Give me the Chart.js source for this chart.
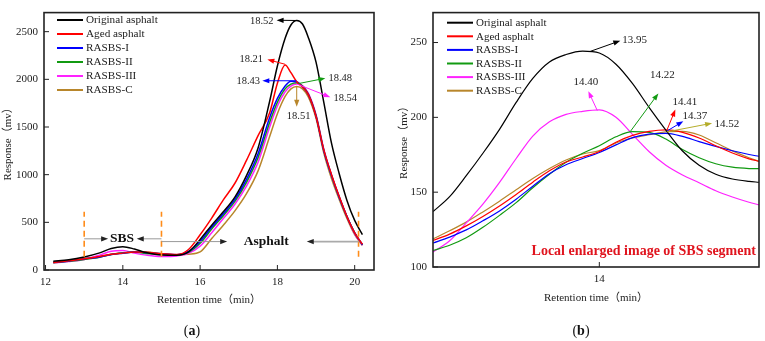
<!DOCTYPE html>
<html>
<head>
<meta charset="utf-8">
<script src="https://cdn.jsdelivr.net/npm/chart.js@4.4.0/dist/chart.umd.min.js"></script>
<style>
  body { margin: 0; background: #fff; width: 765px; height: 341px; position: relative; overflow: hidden; font-family: 'Liberation Serif', serif; color: #111; }
  #chartA { position: absolute; left: 0; top: 0; }
  #chartB { position: absolute; left: 380px; top: 0; }
  .cap { position: absolute; top: 323px; width: 100px; text-align: center; font-size: 14px; line-height: 16px; }
</style>
</head>
<body>
<canvas id="chartA" width="380" height="341"></canvas>
<canvas id="chartB" width="385" height="341"></canvas>
<div class="cap" style="left:142px">(<b>a</b>)</div>
<div class="cap" style="left:531px">(<b>b</b>)</div>
<script>
// series
const seriesNames = ["Original asphalt", "Aged asphalt", "RASBS-I", "RASBS-II", "RASBS-III", "RASBS-C"];
const seriesColors = ["#000000", "#ff0000", "#0000ff", "#119a11", "#ff22ff", "#b8862b"];

// (a) full chromatogram
const timeA = [12.2, 12.6, 13.0, 13.4, 13.7, 14.0, 14.3, 14.6, 15.0, 15.4, 15.7, 16.0, 16.3, 16.6, 16.9, 17.2, 17.5, 17.8, 18.0, 18.2, 18.35, 18.5, 18.65, 18.8, 19.0, 19.2, 19.4, 19.6, 19.8, 20.0, 20.2];
const originalA = [92, 108, 137, 180, 226, 244, 220, 183, 157, 155, 190, 320, 470, 610, 765, 990, 1280, 1770, 2140, 2430, 2570, 2617, 2580, 2440, 2180, 1760, 1330, 1010, 730, 520, 372];
const agedA = [78, 96, 118, 141, 164, 177, 190, 186, 170, 162, 215, 370, 545, 735, 910, 1150, 1410, 1650, 1960, 2150, 2070, 1975, 1920, 1840, 1610, 1260, 1000, 770, 560, 390, 270];
const rasbs1A = [80, 95, 116, 137, 162, 176, 189, 184, 170, 160, 195, 300, 450, 590, 740, 950, 1220, 1600, 1800, 1930, 1980, 1975, 1920, 1840, 1610, 1250, 990, 760, 560, 390, 265];
const rasbs2A = [76, 92, 111, 134, 162, 181, 190, 173, 165, 158, 185, 280, 430, 570, 720, 920, 1180, 1550, 1760, 1900, 1950, 1965, 1930, 1845, 1620, 1260, 995, 765, 560, 390, 265];
const rasbs3A = [74, 88, 110, 156, 197, 205, 177, 156, 141, 148, 175, 250, 390, 540, 690, 880, 1130, 1500, 1720, 1870, 1930, 1950, 1935, 1855, 1630, 1270, 1000, 770, 560, 380, 260];
const rasbsCA = [80, 98, 119, 144, 166, 178, 188, 188, 170, 160, 165, 190, 330, 470, 620, 800, 1040, 1400, 1640, 1820, 1900, 1925, 1900, 1815, 1590, 1230, 960, 740, 540, 370, 258];
const xTicksA = [12, 14, 16, 18, 20];
const yTicksA = [0, 500, 1000, 1500, 2000, 2500];

// (b) SBS segment enlarged
const timeB = [13.0, 13.1, 13.2, 13.3, 13.4, 13.5, 13.6, 13.7, 13.8, 13.9, 14.0, 14.1, 14.2, 14.3, 14.4, 14.5, 14.6, 14.7, 14.8, 14.9, 14.96];
const originalB = [137, 147, 161, 176, 192, 210, 226, 237, 242, 244.3, 243, 235.5, 222.5, 206.5, 191.5, 177.5, 168, 162, 158.8, 157.2, 156.6];
const agedB = [117.7, 122, 127.5, 133.8, 140.8, 148.5, 156.7, 164.3, 170.2, 173.5, 177.2, 183.4, 188, 190.6, 191.6, 190, 186.2, 181, 176.2, 172.3, 170.6];
const rasbs1B = [116, 120, 124.8, 130.9, 137.5, 145.3, 154, 162.3, 168.3, 172.5, 176.5, 181.6, 186.5, 188.8, 189.3, 187.3, 183.8, 180.6, 177.7, 175.2, 173.9];
const rasbs2B = [111, 114.5, 119.5, 126.5, 134.5, 143, 153, 162, 170, 176, 181, 187, 190.5, 190, 185.5, 178.5, 173, 169, 166.7, 165.8, 165.7];
const rasbs3B = [110, 117.5, 129.5, 142, 156.5, 172.5, 187.5, 197, 202, 204, 205, 200, 188.5, 177, 168, 161.5, 156.3, 151, 146.8, 143.3, 141.5];
const rasbsCB = [118.8, 124.2, 130, 136.8, 144, 151.6, 159.1, 165.8, 171.5, 175.5, 177.8, 182.9, 186.2, 188.4, 190.3, 190.6, 188.2, 183, 177.6, 173, 170.6];
const xTicksB = [14];
const yTicksB = [100, 150, 200, 250];

const FONT = "'Liberation Serif', 'Noto Sans CJK SC', serif";
Chart.defaults.font.family = FONT;
Chart.defaults.color = "#222";

function makeSets(time, lists, width) {
  return lists.map((vals, i) => ({
    label: seriesNames[i],
    data: vals.map((v, k) => ({ x: time[k], y: v })),
    borderColor: seriesColors[i],
    borderWidth: width,
    pointRadius: 0,
    cubicInterpolationMode: "monotone",
    fill: false,
  }));
}

function arrow(ctx, x1, y1, x2, y2, color, head, width) {
  const a = Math.atan2(y2 - y1, x2 - x1);
  ctx.strokeStyle = color;
  ctx.lineWidth = width || 1;
  ctx.beginPath();
  ctx.moveTo(x1, y1);
  ctx.lineTo(x2 - Math.cos(a) * 4, y2 - Math.sin(a) * 4);
  ctx.stroke();
  ctx.fillStyle = head || color;
  ctx.beginPath();
  ctx.moveTo(x2, y2);
  ctx.lineTo(x2 - 7 * Math.cos(a) + 2.6 * Math.sin(a), y2 - 7 * Math.sin(a) - 2.6 * Math.cos(a));
  ctx.lineTo(x2 - 7 * Math.cos(a) - 2.6 * Math.sin(a), y2 - 7 * Math.sin(a) + 2.6 * Math.cos(a));
  ctx.closePath();
  ctx.fill();
}

// box around plot + ticks pointing inward
const frame = {
  id: "frame",
  afterDraw(chart) {
    const { ctx, chartArea: a, scales } = chart;
    ctx.save();
    ctx.strokeStyle = "#222";
    ctx.lineWidth = 1.6;
    ctx.strokeRect(a.left, a.top, a.right - a.left, a.bottom - a.top);
    ctx.lineWidth = 1;
    scales.x.ticks.forEach(t => {
      const p = scales.x.getPixelForValue(t.value);
      ctx.beginPath(); ctx.moveTo(p, a.bottom); ctx.lineTo(p, a.bottom - 5); ctx.stroke();
    });
    scales.y.ticks.forEach(t => {
      const p = scales.y.getPixelForValue(t.value);
      ctx.beginPath(); ctx.moveTo(a.left, p); ctx.lineTo(a.left + 5, p); ctx.stroke();
    });
    ctx.restore();
  },
};

// legend inside the plot
const boxLegend = {
  id: "boxLegend",
  afterDraw(chart, args, opts) {
    const ctx = chart.ctx;
    ctx.save();
    ctx.font = opts.size + "px " + FONT;
    ctx.textBaseline = "middle";
    ctx.textAlign = "left";
    chart.data.datasets.forEach((ds, i) => {
      const y = opts.y + i * opts.step;
      ctx.strokeStyle = ds.borderColor;
      ctx.lineWidth = 2;
      ctx.beginPath(); ctx.moveTo(opts.x, y); ctx.lineTo(opts.x + 26, y); ctx.stroke();
      ctx.fillStyle = "#222";
      ctx.fillText(ds.label, opts.x + 29, y + 0.5);
    });
    ctx.restore();
  },
};

// peak labels, arrows and marks (in data units)
const notes = {
  id: "notes",
  afterDatasetsDraw(chart, args, opts) {
    const { ctx, scales } = chart;
    const X = v => scales.x.getPixelForValue(v);
    const Y = v => scales.y.getPixelForValue(v);
    ctx.save();
    (opts.dashes || []).forEach(d => {
      ctx.strokeStyle = "#ff8c1a";
      ctx.lineWidth = 1.6;
      ctx.setLineDash([6, 4]);
      ctx.beginPath(); ctx.moveTo(X(d.x), Y(d.y1)); ctx.lineTo(X(d.x), Y(d.y2)); ctx.stroke();
    });
    ctx.setLineDash([]);
    (opts.arrows || []).forEach(n => {
      arrow(ctx, X(n.from[0]), Y(n.from[1]), X(n.to[0]), Y(n.to[1]), n.color, n.head, n.width);
    });
    (opts.texts || []).forEach(t => {
      ctx.font = (t.bold ? "bold " : "") + t.size + "px " + FONT;
      ctx.fillStyle = t.color || "#222";
      ctx.textAlign = t.align || "center";
      ctx.textBaseline = "middle";
      ctx.fillText(t.text, X(t.at[0]), Y(t.at[1]));
    });
    ctx.restore();
  },
};

function ticksFrom(list) {
  return s => { s.ticks = list.map(v => ({ value: v })); };
}
const plain = v => String(v);

new Chart(document.getElementById("chartA"), {
  type: "line",
  data: { datasets: makeSets(timeA, [originalA, agedA, rasbs1A, rasbs2A, rasbs3A, rasbsCA], 1.5) },
  options: {
    responsive: false,
    animation: false,
    layout: { padding: { top: 4, right: 6, left: 0, bottom: 0 } },
    scales: {
      x: {
        type: "linear", min: 11.96, max: 20.5,
        afterBuildTicks: ticksFrom(xTicksA),
        afterFit: s => { s.height = 71; },
        grid: { display: false, drawTicks: false },
        border: { display: false },
        ticks: { padding: 6, font: { size: 11 }, callback: plain },
        title: { display: true, text: "Retention time（min）", font: { size: 11 }, padding: { top: 0, bottom: 34 } },
      },
      y: {
        min: 0, max: 2700,
        afterBuildTicks: ticksFrom(yTicksA),
        afterFit: s => { s.width = 44; },
        grid: { display: false, drawTicks: false },
        border: { display: false },
        ticks: { padding: 6, font: { size: 11 }, callback: plain },
        title: { display: true, text: "Response（mv）", font: { size: 11 }, padding: { top: 2, bottom: 0 } },
      },
    },
    plugins: {
      legend: { display: false },
      tooltip: { enabled: false },
      boxLegend: { x: 57, y: 20, step: 14, size: 11.2 },
      notes: {
        dashes: [{ x: 13, y1: 140, y2: 610 }, { x: 15, y1: 140, y2: 610 }, { x: 20.1, y1: 140, y2: 610 }],
        arrows: [
          { from: [18.5, 2617], to: [17.98, 2620], color: "#000" },
          { from: [18.2, 2158], to: [17.74, 2208], color: "#ff0000" },
          { from: [18.49, 1985], to: [17.61, 1985], color: "#0000ff" },
          { from: [18.54, 1955], to: [19.24, 2011], color: "#119a11" },
          { from: [18.54, 1945], to: [19.37, 1813], color: "#ff22ff" },
          { from: [18.5, 1925], to: [18.5, 1712], color: "#b8862b" },
          { from: [13, 327], to: [13.62, 327], color: "#999", head: "#222" },
          { from: [15, 327], to: [14.36, 327], color: "#999", head: "#222" },
          { from: [15, 298], to: [16.7, 298], color: "#999", head: "#222" },
          { from: [20.1, 298], to: [18.76, 298], color: "#aaa", head: "#222", width: 1.6 },
        ],
        texts: [
          { text: "18.52", at: [17.9, 2610], align: "right", size: 10.5 },
          { text: "18.21", at: [17.63, 2208], align: "right", size: 10.5 },
          { text: "18.43", at: [17.55, 1985], align: "right", size: 10.5 },
          { text: "18.48", at: [19.32, 2011], align: "left", size: 10.5 },
          { text: "18.54", at: [19.45, 1803], align: "left", size: 10.5 },
          { text: "18.51", at: [18.55, 1611], align: "center", size: 10.5 },
          { text: "SBS", at: [13.98, 327], bold: true, size: 13.5, color: "#111" },
          { text: "Asphalt", at: [17.71, 298], bold: true, size: 13.5, color: "#111" },
        ],
      },
    },
  },
  plugins: [frame, boxLegend, notes],
});

new Chart(document.getElementById("chartB"), {
  type: "line",
  data: { datasets: makeSets(timeB, [originalB, agedB, rasbs1B, rasbs2B, rasbs3B, rasbsCB], 1.2) },
  options: {
    responsive: false,
    animation: false,
    layout: { padding: { top: 6, right: 6, left: 0, bottom: 0 } },
    scales: {
      x: {
        type: "linear", min: 13.0, max: 14.96,
        afterBuildTicks: ticksFrom(xTicksB),
        afterFit: s => { s.height = 74; },
        grid: { display: false, drawTicks: false },
        border: { display: false },
        ticks: { padding: 6, font: { size: 11 }, callback: plain },
        title: { display: true, text: "Retention time（min）", font: { size: 11 }, padding: { top: 0, bottom: 36 } },
      },
      y: {
        min: 100, max: 270,
        afterBuildTicks: ticksFrom(yTicksB),
        afterFit: s => { s.width = 53; },
        grid: { display: false, drawTicks: false },
        border: { display: false },
        ticks: { padding: 6, font: { size: 11 }, callback: plain },
        title: { display: true, text: "Response（mv）", font: { size: 11 }, padding: { top: 18, bottom: 0 } },
      },
    },
    plugins: {
      legend: { display: false },
      tooltip: { enabled: false },
      boxLegend: { x: 67, y: 22.7, step: 13.6, size: 11 },
      notes: {
        arrows: [
          { from: [13.946, 244.1], to: [14.126, 251.2], color: "#000" },
          { from: [13.988, 204.5], to: [13.934, 217.5], color: "#ff22ff" },
          { from: [14.186, 190.5], to: [14.355, 216], color: "#119a11" },
          { from: [14.407, 191.6], to: [14.457, 205.2], color: "#ff0000" },
          { from: [14.407, 190.9], to: [14.505, 197.4], color: "#0000ff" },
          { from: [14.407, 190.3], to: [14.678, 196.1], color: "#b5ad2a" },
        ],
        texts: [
          { text: "13.95", at: [14.138, 251.8], align: "left", size: 11 },
          { text: "14.40", at: [13.919, 223.3], align: "center", size: 11 },
          { text: "14.22", at: [14.379, 227.9], align: "center", size: 11 },
          { text: "14.41", at: [14.514, 210.4], align: "center", size: 11 },
          { text: "14.37", at: [14.5, 200.6], align: "left", size: 11 },
          { text: "14.52", at: [14.692, 195.5], align: "left", size: 11 },
          { text: "Local enlarged image of SBS segment", at: [14.267, 110.6], bold: true, size: 14, color: "#e0141e" },
        ],
      },
    },
  },
  plugins: [frame, boxLegend, notes],
});
</script>
</body>
</html>
